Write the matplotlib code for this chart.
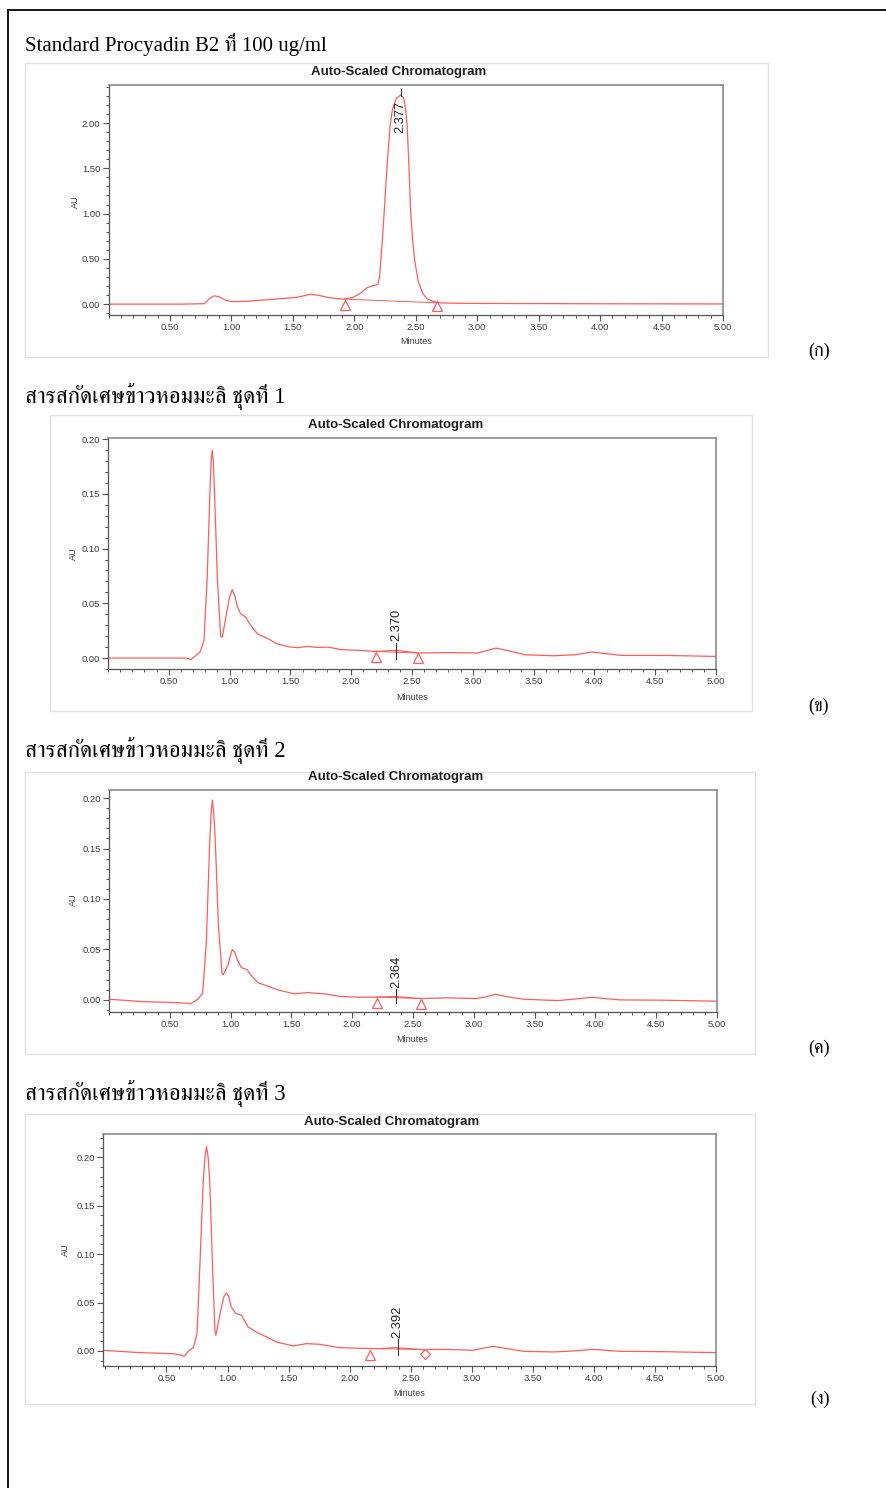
import numpy as np
import matplotlib
matplotlib.use("Agg")
import matplotlib.pyplot as plt
from matplotlib import font_manager
from matplotlib.ft2font import FT2Font
from matplotlib.patches import Rectangle
from matplotlib.lines import Line2D
from matplotlib.ticker import MultipleLocator, FormatStrFormatter

# -------------------- data --------------------
# (ก) standard procyanidin B2, 100 ug/ml
std_time = [0.00, 0.20, 0.40, 0.60, 0.78, 0.82, 0.86, 0.90, 0.95, 1.00, 1.10, 1.26, 1.40,
            1.53, 1.60, 1.64, 1.70, 1.78, 1.85, 1.91, 1.99, 2.05, 2.10, 2.15, 2.19, 2.205,
            2.216, 2.23, 2.243, 2.265, 2.29, 2.31, 2.34, 2.377, 2.40, 2.415, 2.43, 2.445,
            2.458, 2.475, 2.49, 2.52, 2.556, 2.59, 2.64, 2.70, 2.80, 3.00, 3.50, 4.00, 4.50, 5.00]
std_au = [0.000, 0.000, 0.000, 0.000, 0.005, 0.060, 0.092, 0.080, 0.045, 0.028, 0.030, 0.045,
          0.060, 0.075, 0.095, 0.110, 0.100, 0.075, 0.062, 0.055, 0.075, 0.120, 0.180, 0.205,
          0.215, 0.300, 0.490, 0.750, 1.020, 1.500, 1.960, 2.150, 2.270, 2.310, 2.280, 2.180,
          1.960, 1.500, 1.020, 0.700, 0.490, 0.250, 0.120, 0.060, 0.030, 0.015, 0.010, 0.008,
          0.006, 0.004, 0.003, 0.002]

# (ข) jasmine rice residue extract, set 1
set1_time = [0.00, 0.30, 0.60, 0.65, 0.68, 0.72, 0.76, 0.79, 0.816, 0.838, 0.848, 0.857, 0.866,
             0.876, 0.899, 0.926, 0.94, 0.98, 1.00, 1.022, 1.045, 1.064, 1.09, 1.132, 1.17,
             1.23, 1.31, 1.39, 1.50, 1.57, 1.64, 1.72, 1.81, 1.92, 2.08, 2.19, 2.37, 2.45,
             2.55, 2.79, 3.04, 3.12, 3.19, 3.28, 3.43, 3.67, 3.84, 3.98, 4.10, 4.22, 4.58, 5.00]
set1_au = [0.000, 0.000, 0.000, 0.000, -0.0015, 0.002, 0.006, 0.0167, 0.0745, 0.151, 0.180,
           0.190, 0.180, 0.151, 0.0745, 0.0198, 0.019, 0.044, 0.056, 0.0624, 0.056, 0.047,
           0.0405, 0.0374, 0.0304, 0.022, 0.018, 0.013, 0.010, 0.0095, 0.0107, 0.0097, 0.010,
           0.0076, 0.007, 0.006, 0.007, 0.006, 0.0046, 0.005, 0.0046, 0.007, 0.0091, 0.007,
           0.003, 0.0021, 0.003, 0.0055, 0.004, 0.0024, 0.0024, 0.0015]

# (ค) set 2
set2_time = [0.00, 0.27, 0.50, 0.65, 0.67, 0.73, 0.77, 0.80, 0.828, 0.84, 0.85, 0.862, 0.875,
             0.90, 0.93, 0.94, 0.98, 1.00, 1.014, 1.035, 1.055, 1.088, 1.137, 1.17, 1.225,
             1.307, 1.39, 1.525, 1.635, 1.70, 1.77, 1.91, 2.07, 2.20, 2.36, 2.565, 2.78, 3.02,
             3.10, 3.18, 3.28, 3.41, 3.69, 3.82, 3.97, 4.20, 4.56, 5.00]
set2_au = [0.0007, -0.0017, -0.0025, -0.0033, -0.004, 0.0007, 0.0066, 0.056, 0.155, 0.185,
           0.198, 0.185, 0.155, 0.073, 0.026, 0.025, 0.035, 0.045, 0.050, 0.047, 0.040, 0.032,
           0.030, 0.024, 0.017, 0.0136, 0.0099, 0.006, 0.0073, 0.0065, 0.006, 0.0033, 0.0026,
           0.0028, 0.0033, 0.0013, 0.002, 0.0013, 0.003, 0.0056, 0.003, 0.0007, -0.0007,
           0.0007, 0.0026, 0.000, -0.0003, -0.0013]

# (ง) set 3
set3_time = [-0.02, 0.28, 0.555, 0.61, 0.645, 0.68, 0.72, 0.75, 0.773, 0.80, 0.815, 0.828,
             0.841, 0.855, 0.877, 0.896, 0.904, 0.95, 0.97, 0.99, 1.01, 1.03, 1.067, 1.114,
             1.168, 1.237, 1.32, 1.40, 1.537, 1.647, 1.755, 1.92, 2.08, 2.247, 2.37, 2.60,
             2.79, 3.01, 3.10, 3.175, 3.26, 3.42, 3.67, 3.83, 3.99, 4.21, 4.57, 5.00]
set3_au = [0.0007, -0.0017, -0.0028, -0.0040, -0.0055, 0.000, 0.0034, 0.018, 0.087, 0.173,
           0.200, 0.211, 0.200, 0.173, 0.087, 0.0214, 0.0162, 0.0455, 0.056, 0.060, 0.056,
           0.0455, 0.0387, 0.037, 0.0248, 0.0194, 0.0145, 0.0093, 0.0052, 0.0076, 0.0069,
           0.0034, 0.0028, 0.0024, 0.0034, 0.0014, 0.0017, 0.0007, 0.003, 0.0048, 0.003,
           -0.0003, -0.001, 0.000, 0.0017, -0.0003, -0.0007, -0.0017]

times = [std_time, set1_time, set2_time, set3_time]
signals = [std_au, set1_au, set2_au, set3_au]

# integration marks: start/end time and AU of the marker
start_marks = [(1.92, -0.01), (2.20, 0.001), (2.20, -0.0026), (2.17, -0.0037)]
end_marks = [(2.67, -0.02), (2.55, 0.0004), (2.565, -0.004), (2.62, -0.0028)]
end_symbol = ['^', '^', '^', 'D']
# integration baseline (t0, au0, t1, au1)
baselines = [(1.92, 0.055, 2.67, 0.015), (2.20, 0.006, 2.55, 0.0046),
             (2.20, 0.0028, 2.565, 0.0013), (2.17, 0.0026, 2.62, 0.0014)]

peak_rt = [2.377, 2.370, 2.364, 2.392]
peak_labels = ['2.377', '2.370', '2.364', '2.392']
tick_lo = [2.30, -0.0005, -0.0035, -0.0045]
tick_hi = [2.38, 0.014, 0.0106, 0.0127]
label_at = [2.24, 0.0160, 0.0122, 0.0138]

y_ticks = [[0.0, 0.5, 1.0, 1.5, 2.0]] + [[0.0, 0.05, 0.10, 0.15, 0.20]] * 3
y_minor = [0.1, 0.01, 0.01, 0.01]
x_ticks = [0.5, 1.0, 1.5, 2.0, 2.5, 3.0, 3.5, 4.0, 4.5, 5.0]
xlims = [(0.0, 5.0), (0.0, 5.0), (0.0, 5.0), (-0.02, 5.0)]
ylims = [(-0.12, 2.42), (-0.010, 0.201), (-0.012, 0.208), (-0.0155, 0.224)]

headings = ['Standard Procyadin B2 ที่ 100 ug/ml',
            'สารสกัดเศษข้าวหอมมะลิ ชุดที่ 1',
            'สารสกัดเศษข้าวหอมมะลิ ชุดที่ 2',
            'สารสกัดเศษข้าวหอมมะลิ ชุดที่ 3']
tags = ['(ก)', '(ข)', '(ค)', '(ง)']

# -------------------- layout (pixel positions in the 886x1488 page) --------------------
W, H = 886, 1488
layout = [
    dict(ax=(108.6, 85, 723, 315), frame=(25, 63, 768, 357), title=(399, 72),
         au=(75, 202), minutes=(416, 342), heading=(25, 45), tag=(808, 351)),
    dict(ax=(108, 438, 716, 669), frame=(50, 415, 752, 711), title=(396, 425),
         au=(73, 554), minutes=(412, 697), heading=(25, 396), tag=(808, 706)),
    dict(ax=(109, 790, 717, 1012), frame=(25, 772, 755, 1054), title=(396, 777),
         au=(73, 900), minutes=(412, 1039), heading=(25, 750), tag=(808, 1048)),
    dict(ax=(103, 1134, 716, 1366), frame=(25, 1114, 755, 1404), title=(392, 1122),
         au=(65, 1250), minutes=(409, 1393), heading=(25, 1093), tag=(810, 1399)),
]
heading_size = [15, 16.5, 16.5, 16.5]


def fx(px):
    return px / W


def fy(py):
    return 1 - py / H


def find_thai_font():
    found = []
    for f in font_manager.fontManager.ttflist:
        try:
            cmap = FT2Font(f.fname).get_charmap()
        except Exception:
            continue
        if 0x0E2A in cmap and 0x0E01 in cmap:
            found.append(f.name)
    for n in found:
        if 'Serif' in n or 'Looped' in n:
            return n
    return found[0] if found else None


thai = find_thai_font()
serif = ['Liberation Serif'] + ([thai] if thai else []) + ['DejaVu Sans']
sans = 'Liberation Sans'

curve_color = '#ff5c5c'
text_gray = '#3a3a3a'

fig = plt.figure(figsize=(W / 100, H / 100), dpi=100)

# page border (left and top edges only show)
fig.add_artist(Line2D([fx(8), fx(8)], [fy(10), fy(1490)], color='black', lw=1.3))
fig.add_artist(Line2D([fx(8), fx(890)], [fy(10), fy(10)], color='black', lw=1.3))

for i, lay in enumerate(layout):
    x0, y0, x1, y1 = lay['frame']
    fig.add_artist(Rectangle((fx(x0), fy(y1)), fx(x1 - x0), (y1 - y0) / H,
                             transform=fig.transFigure, fill=False,
                             edgecolor='#e2e2e2', lw=1.0))

    l, t, r, b = lay['ax']
    ax = fig.add_axes([fx(l), fy(b), fx(r - l), (b - t) / H])
    ax.plot(times[i], signals[i], color=curve_color, lw=0.9)

    bt0, ba0, bt1, ba1 = baselines[i]
    ax.plot([bt0, bt1], [ba0, ba1], color=curve_color, lw=0.7)
    ax.plot(start_marks[i][0], start_marks[i][1], marker='^', ms=6.5, mfc='white',
            mec=curve_color, mew=0.9, ls='none')
    ax.plot(end_marks[i][0], end_marks[i][1], marker=end_symbol[i],
            ms=6.5 if end_symbol[i] == '^' else 5, mfc='white',
            mec=curve_color, mew=0.9, ls='none')

    # retention time label
    ax.plot([peak_rt[i], peak_rt[i]], [tick_lo[i], tick_hi[i]], color='#333333', lw=0.8)
    ax.text(peak_rt[i], label_at[i], peak_labels[i], rotation=90, ha='center',
            va='top' if i == 0 else 'bottom', fontsize=9.3, family=sans, color='#222222')

    ax.set_xlim(*xlims[i])
    ax.set_ylim(*ylims[i])
    ax.set_xticks(x_ticks)
    ax.set_yticks(y_ticks[i])
    ax.xaxis.set_minor_locator(MultipleLocator(0.1))
    ax.yaxis.set_minor_locator(MultipleLocator(y_minor[i]))
    ax.xaxis.set_major_formatter(FormatStrFormatter('%.2f'))
    ax.yaxis.set_major_formatter(FormatStrFormatter('%.2f'))
    ax.tick_params(which='major', direction='out', length=4, width=0.8, color='#555555',
                   labelsize=6.8, labelcolor=text_gray, pad=2)
    ax.tick_params(which='minor', direction='out', length=2.5, width=0.7, color='#555555')
    for lab in ax.get_xticklabels() + ax.get_yticklabels():
        lab.set_family(sans)
    for side in ['top', 'right']:
        ax.spines[side].set_color('#8a8a8a')
        ax.spines[side].set_linewidth(1.2)
    for side in ['left', 'bottom']:
        ax.spines[side].set_color('#555555')
        ax.spines[side].set_linewidth(0.9)

    fig.text(fx(lay['title'][0]), fy(lay['title'][1]), 'Auto-Scaled Chromatogram',
             ha='center', va='center', fontsize=9.5, fontweight='bold', family=sans,
             color='#1e1e1e')
    fig.text(fx(lay['au'][0]), fy(lay['au'][1]), 'AU', rotation=90, ha='center',
             va='center', fontsize=6.5, family=sans, color=text_gray)
    fig.text(fx(lay['minutes'][0]), fy(lay['minutes'][1]), 'Minutes', ha='center',
             va='center', fontsize=6.5, family=sans, color=text_gray)
    fig.text(fx(lay['heading'][0]), fy(lay['heading'][1]), headings[i], ha='left',
             va='center', fontsize=heading_size[i], family=serif, color='black')
    fig.text(fx(lay['tag'][0]), fy(lay['tag'][1]), tags[i], ha='left', va='center',
             fontsize=13, family=serif, color='black')

fig.savefig('out.png', dpi=100)
